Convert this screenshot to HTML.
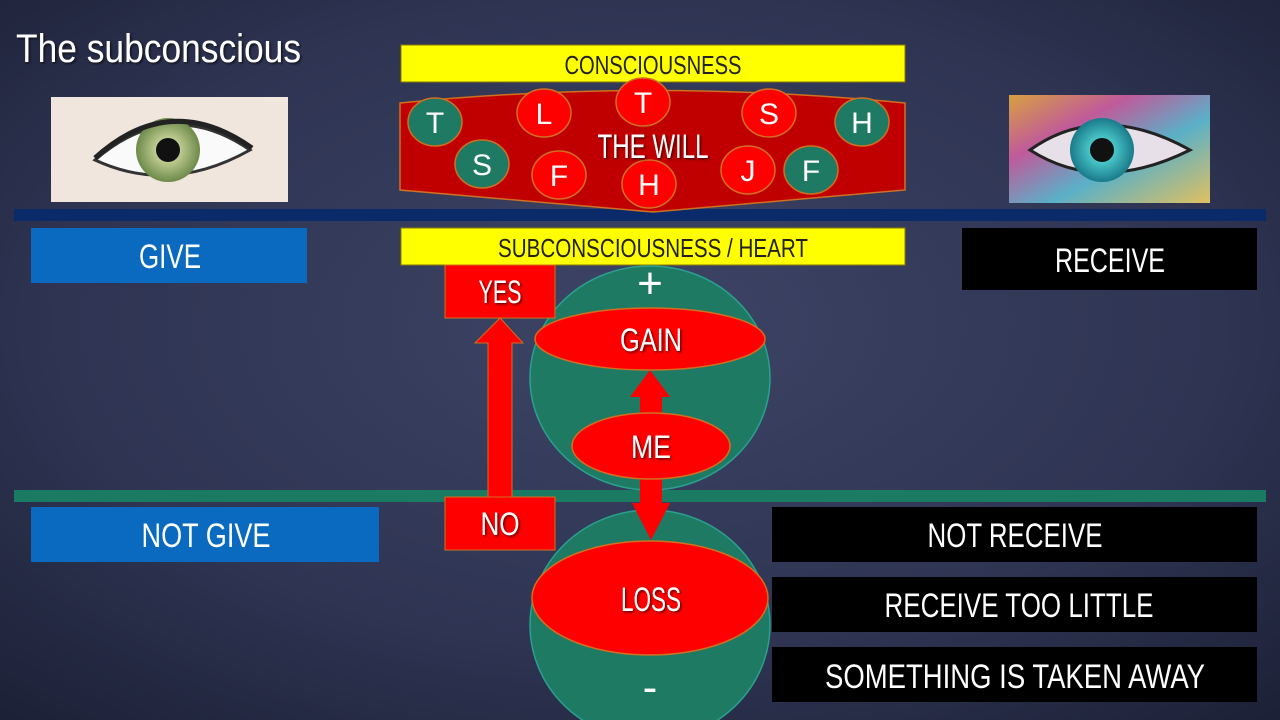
<!DOCTYPE html>
<html><head><meta charset="utf-8"><style>
html,body{margin:0;padding:0;width:1280px;height:720px;overflow:hidden;background:#2b3049}
svg{display:block}
text{font-family:"Liberation Sans Narrow","Liberation Sans",sans-serif;fill:#fff}
</style></head><body>
<svg width="1280" height="720" viewBox="0 0 1280 720" xmlns="http://www.w3.org/2000/svg">
<defs>
<radialGradient id="bg" cx="0.5" cy="0.45" r="0.75">
<stop offset="0" stop-color="#3d4465"/><stop offset="0.6" stop-color="#2e3452"/><stop offset="1" stop-color="#1c2036"/>
</radialGradient>
<radialGradient id="iris1" cx="0.5" cy="0.5" r="0.5"><stop offset="0.3" stop-color="#c9d49a"/><stop offset="1" stop-color="#6d8a4a"/></radialGradient>
<radialGradient id="iris2" cx="0.5" cy="0.5" r="0.5"><stop offset="0.3" stop-color="#4fd0d0"/><stop offset="1" stop-color="#1a7a8a"/></radialGradient>
<linearGradient id="multi" x1="0" y1="0" x2="1" y2="1"><stop offset="0" stop-color="#d8a040"/><stop offset="0.3" stop-color="#c05a9a"/><stop offset="0.6" stop-color="#5ab0c8"/><stop offset="1" stop-color="#e0c060"/></linearGradient>
<filter id="sh"><feDropShadow dx="1.5" dy="1.5" stdDeviation="1" flood-color="#000" flood-opacity="0.6"/></filter>
</defs>
<rect width="1280" height="720" fill="url(#bg)"/>

<text x="16" y="62" font-size="40" textLength="285" lengthAdjust="spacingAndGlyphs" filter="url(#sh)">The subconscious</text>

<!-- left eye -->
<rect x="51" y="97" width="237" height="105" fill="#f1e6de"/>
<path d="M95 160 Q170 95 250 150 Q170 195 95 160Z" fill="#fafafa" stroke="#333" stroke-width="3"/>
<circle cx="168" cy="150" r="32" fill="url(#iris1)"/>
<circle cx="168" cy="150" r="12" fill="#111"/>
<path d="M95 158 Q170 90 252 148" fill="none" stroke="#222" stroke-width="5"/>
<!-- right eye -->
<rect x="1009" y="95" width="201" height="108" fill="url(#multi)"/>
<path d="M1030 150 Q1100 100 1190 150 Q1100 195 1030 150Z" fill="#e8e0e8" stroke="#222" stroke-width="3"/>
<circle cx="1102" cy="150" r="32" fill="url(#iris2)"/>
<circle cx="1102" cy="150" r="12" fill="#111"/>

<!-- lines -->
<rect x="14" y="209" width="1252" height="12" fill="#0b2a6a"/>
<rect x="14" y="490" width="1252" height="12" fill="#1a7a62"/>

<!-- consciousness -->
<rect x="401" y="45" width="504" height="37" fill="#ffff00" stroke="#8a7a00"/>
<text x="653" y="74" font-size="26" text-anchor="middle" style="fill:#222" textLength="177" lengthAdjust="spacingAndGlyphs">CONSCIOUSNESS</text>
<path d="M400 103 Q653 78 905 103 L905 190 L653 212 L400 190Z" fill="#c00000" stroke="#d07020" stroke-width="1.5"/>
<g stroke="#d07020" stroke-width="1.5">
<ellipse cx="435" cy="122" rx="27" ry="24" fill="#1e7a62"/>
<ellipse cx="544" cy="113" rx="27" ry="24" fill="#ff0000"/>
<ellipse cx="643" cy="102" rx="27" ry="24" fill="#ff0000"/>
<ellipse cx="769" cy="113" rx="27" ry="24" fill="#ff0000"/>
<ellipse cx="862" cy="122" rx="27" ry="24" fill="#1e7a62"/>
<ellipse cx="482" cy="164" rx="27" ry="24" fill="#1e7a62"/>
<ellipse cx="559" cy="175" rx="27" ry="24" fill="#ff0000"/>
<ellipse cx="649" cy="184" rx="27" ry="24" fill="#ff0000"/>
<ellipse cx="748" cy="170" rx="27" ry="24" fill="#ff0000"/>
<ellipse cx="811" cy="170" rx="27" ry="24" fill="#1e7a62"/>
</g>
<g font-size="30" text-anchor="middle">
<text x="435" y="133">T</text><text x="544" y="124">L</text><text x="643" y="113">T</text>
<text x="769" y="124">S</text><text x="862" y="133">H</text><text x="482" y="175">S</text>
<text x="559" y="186">F</text><text x="649" y="195">H</text><text x="748" y="181">J</text><text x="811" y="181">F</text>
</g>
<text x="653" y="158" font-size="34" text-anchor="middle" textLength="111" lengthAdjust="spacingAndGlyphs" filter="url(#sh)">THE WILL</text>

<!-- subconsciousness -->
<rect x="401" y="228" width="504" height="37" fill="#ffff00" stroke="#8a7a00"/>
<text x="653" y="257" font-size="26" text-anchor="middle" style="fill:#222" textLength="310" lengthAdjust="spacingAndGlyphs">SUBCONSCIOUSNESS / HEART</text>

<!-- left/right boxes -->
<rect x="31" y="228" width="276" height="55" fill="#0a6abf"/>
<text x="170" y="268" font-size="34" text-anchor="middle" textLength="62" lengthAdjust="spacingAndGlyphs">GIVE</text>
<rect x="962" y="228" width="295" height="62" fill="#000"/>
<text x="1110" y="272" font-size="34" text-anchor="middle" textLength="110" lengthAdjust="spacingAndGlyphs">RECEIVE</text>
<rect x="31" y="507" width="348" height="55" fill="#0a6abf"/>
<text x="206" y="547" font-size="34" text-anchor="middle" textLength="129" lengthAdjust="spacingAndGlyphs">NOT GIVE</text>
<rect x="772" y="507" width="485" height="55" fill="#000"/>
<text x="1015" y="547" font-size="34" text-anchor="middle" textLength="175" lengthAdjust="spacingAndGlyphs">NOT RECEIVE</text>
<rect x="772" y="577" width="485" height="55" fill="#000"/>
<text x="1019" y="617" font-size="34" text-anchor="middle" textLength="269" lengthAdjust="spacingAndGlyphs">RECEIVE TOO LITTLE</text>
<rect x="772" y="647" width="485" height="55" fill="#000"/>
<text x="1015" y="688" font-size="34" text-anchor="middle" textLength="380" lengthAdjust="spacingAndGlyphs">SOMETHING IS TAKEN AWAY</text>

<!-- circles -->
<ellipse cx="650" cy="378" rx="120" ry="112" fill="#1e7a62" stroke="#2aa090" stroke-width="1.5"/>
<ellipse cx="650" cy="625" rx="120" ry="115" fill="#1e7a62" stroke="#2aa090" stroke-width="1.5"/>
<text x="650" y="298" font-size="44" text-anchor="middle">+</text>
<text x="650" y="702" font-size="44" text-anchor="middle">-</text>

<!-- arrows -->
<polygon points="488,343 475,343 500,318 523,343 512,343 512,497 488,497" fill="#ff0000" stroke="#d07020" stroke-width="1"/>
<polygon points="640,415 640,397 630,397 650,370 670,397 662,397 662,415" fill="#ff0000"/>
<polygon points="640,478 662,478 662,503 670,503 651,540 632,503 640,503" fill="#ff0000"/>

<ellipse cx="650" cy="339" rx="115" ry="31" fill="#ff0000" stroke="#d07020" stroke-width="1.5"/>
<text x="651" y="351" font-size="32" text-anchor="middle" textLength="62" lengthAdjust="spacingAndGlyphs" filter="url(#sh)">GAIN</text>
<ellipse cx="651" cy="446" rx="79" ry="33" fill="#ff0000" stroke="#d07020" stroke-width="1.5"/>
<text x="651" y="458" font-size="32" text-anchor="middle" textLength="40" lengthAdjust="spacingAndGlyphs" filter="url(#sh)">ME</text>
<ellipse cx="650" cy="598" rx="118" ry="57" fill="#ff0000" stroke="#d07020" stroke-width="1.5"/>
<text x="651" y="611" font-size="34" text-anchor="middle" textLength="60" lengthAdjust="spacingAndGlyphs" filter="url(#sh)">LOSS</text>

<rect x="445" y="265" width="110" height="53" fill="#ff0000" stroke="#d07020"/>
<text x="500" y="303" font-size="32" text-anchor="middle" textLength="43" lengthAdjust="spacingAndGlyphs" filter="url(#sh)">YES</text>
<rect x="445" y="497" width="110" height="53" fill="#ff0000" stroke="#d07020"/>
<text x="500" y="535" font-size="32" text-anchor="middle" textLength="39" lengthAdjust="spacingAndGlyphs" filter="url(#sh)">NO</text>
</svg>
</body></html>
